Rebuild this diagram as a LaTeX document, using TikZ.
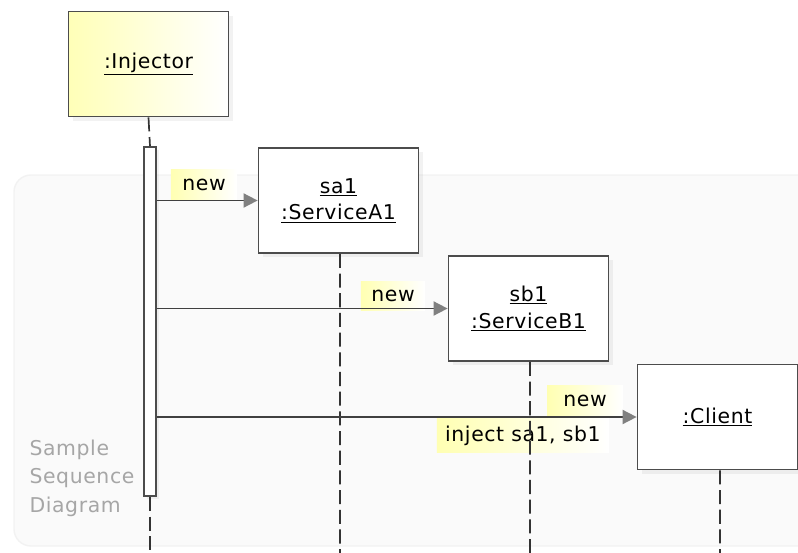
\documentclass[tikz,border=0pt]{standalone}
\usepackage{fontspec}
\setmainfont[LetterSpace=3]{DejaVu Sans}
\usetikzlibrary{arrows.meta,shadows}

\begin{document}
\begin{tikzpicture}[
       x=0.025cm,y=-0.025cm,
       line width=1.2pt,
       font=\fontsize{14.5}{19}\selectfont,
       objekt/.style={
         draw=black!70,
         fill=white,
         align=center,
         minimum width=4cm,
         minimum height=2.625cm,
         drop shadow={shadow xshift=3pt,shadow yshift=-3pt,opacity=0.1}
       },
       lebenslinie/.style={draw=black!80,dash pattern=on 10pt off 4pt},
       nachricht/.style={draw=black!75,-{Triangle[length=10pt,width=10pt,fill=black!50,color=black!50]}},
       markiert/.style={left color=yellow!30,right color=white,inner sep=2pt}
     ]
\useasboundingbox (0,0) rectangle (798,553);
\draw[draw=black!5,fill=black!2,rounded corners=12pt,line width=1pt] (14,175) rectangle (830,546);
\node[anchor=north west,align=left,text=black!35,font=\fontsize{14.5}{20.5}\selectfont] (titel) at (24,434) {Sample\\Sequence\\Diagram};

\node[objekt,left color=yellow!28,right color=white] (inj) at (148.5,64) {\underline{:Injector}};
\node[objekt] (sa1) at (338.5,200.5) {\underline{sa1}\\\underline{:ServiceA1}};
\node[objekt] (sb1) at (528.5,308.5) {\underline{sb1}\\\underline{:ServiceB1}};
\node[objekt] (cl) at (717.5,417) {\underline{:Client}};
\node[draw=black!70,fill=white,minimum width=0.3cm,minimum height=8.725cm,inner sep=0pt,
      drop shadow={shadow xshift=2pt,shadow yshift=-2pt,opacity=0.1}] (akt) at (150,321.5) {};

% Beschriftungen
\node[markiert,minimum width=1.65cm,minimum height=0.75cm] (new1) at (204,185) {new};
\node[markiert,minimum width=1.6cm,minimum height=0.7cm] (new2) at (393,296) {new};
\node[markiert,minimum width=1.9cm,minimum height=0.8cm,anchor=south east] (new3) at (624,418) {new};
\node[markiert,minimum width=4.3cm,minimum height=0.85cm,anchor=north west] (inj2) at (436,418) {inject sa1, sb1};

% Lebenslinien
\draw[lebenslinie] (inj.south) -- (akt.north);
\draw[lebenslinie] (akt.south) -- (150,553);
\draw[lebenslinie] (sa1.south) ++(1.5,0) -- (340,553);
\draw[lebenslinie] (sb1.south) ++(1.5,0) -- (530,553);
\draw[lebenslinie] (cl.south) ++(2.5,0) -- (720,553);

% Nachrichten
\draw[nachricht] (akt.east |- sa1.west) -- (sa1.west);
\draw[nachricht] (akt.east |- sb1.west) -- (sb1.west);
\draw[nachricht] (akt.east |- cl.west) -- (cl.west);

\end{tikzpicture}
\end{document}
